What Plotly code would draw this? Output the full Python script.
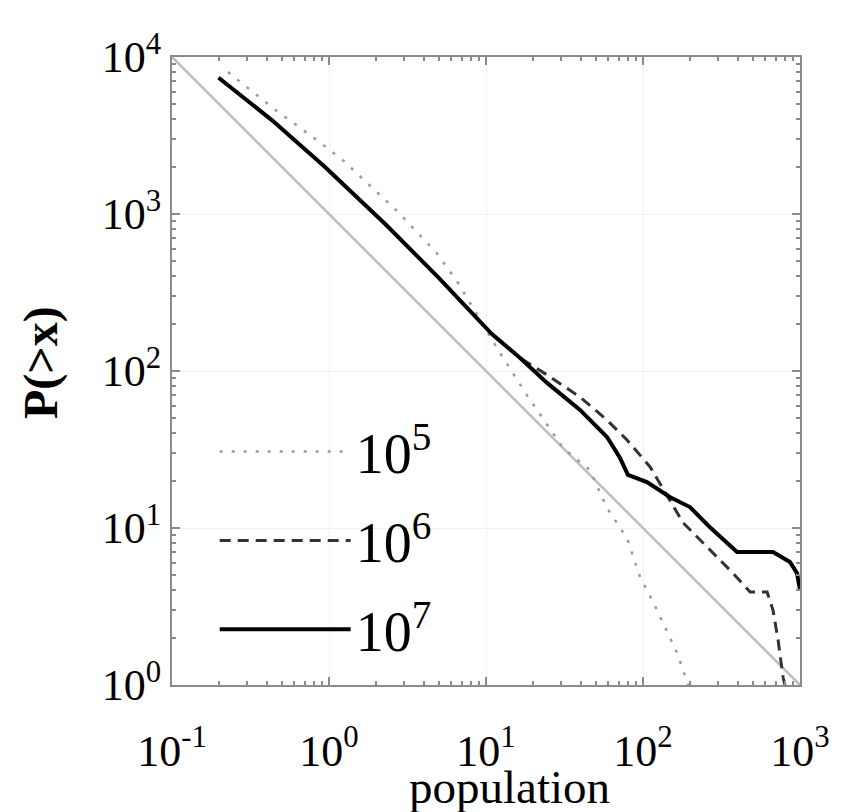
import plotly.graph_objects as go

# P(>x) versus population
pop_1e5 = [0.227, 0.440, 0.836, 1.24, 2.78, 4.85, 6.64, 12.3, 18.2, 30.9, 45.9, 59.0,
           79.1, 95.7, 116, 138, 165, 194]
cdf_1e5 = [8020, 4730, 2960, 2180, 1020, 565, 364, 130, 70.3, 32.4, 23.4, 13.4,
           8.63, 4.88, 3.38, 2.31, 1.60, 1.0]

pop_1e6 = [0.198, 0.434, 0.943, 2.28, 5.02, 10.9, 16.5, 24.5, 39.7, 59.0, 79.1, 111,
           180, 256, 374, 481, 617, 673, 725, 780, 802]
cdf_1e6 = [7380, 3950, 1990, 863, 391, 172, 121, 94.4, 68.3, 48.7, 36.4, 24.5,
           10.8, 7.57, 5.16, 3.91, 3.91, 3.0, 1.94, 1.12, 1.0]

pop_1e7 = [0.198, 0.434, 0.943, 2.28, 5.02, 10.9, 16.5, 24.5, 39.7, 59.0, 71.4, 80.2,
           106, 149, 199, 267, 397, 673, 863, 957, 1000]
cdf_1e7 = [7380, 3950, 1990, 863, 391, 172, 121, 84, 56.5, 38.0, 27.9, 21.8,
           19.6, 15.7, 13.6, 10.1, 7.03, 7.03, 6.07, 5.16, 4.03]

# reference power law x^-1
ref_x = [0.1, 1000]
ref_y = [10000, 1]

series_names = ['10<sup>5</sup>', '10<sup>6</sup>', '10<sup>7</sup>']

x_tickvals = [0.1, 1, 10, 100, 1000]
x_ticktext = ['10<sup>-1</sup>', '10<sup>0</sup>', '10<sup>1</sup>', '10<sup>2</sup>', '10<sup>3</sup>']
y_tickvals = [1, 10, 100, 1000, 10000]
y_ticktext = ['10<sup>0</sup>', '10<sup>1</sup>', '10<sup>2</sup>', '10<sup>3</sup>', '10<sup>4</sup>']

x_minor = [m * 10 ** e for e in range(-1, 3) for m in range(2, 10)]
y_minor = [m * 10 ** e for e in range(0, 4) for m in range(2, 10)]

FONT = 'Liberation Serif'

ref = go.Scatter(x=ref_x, y=ref_y, mode='lines', showlegend=False,
                 line=dict(color='#bdbdbd', width=2.5))
trace1 = go.Scatter(x=pop_1e5, y=cdf_1e5, mode='lines', name=series_names[0], legendgroup='a',
                    line=dict(color='#9a9a9a', width=2.5, dash='3px,9px'))
trace2 = go.Scatter(x=pop_1e6, y=cdf_1e6, mode='lines', name=series_names[1], legendgroup='b',
                    line=dict(color='#333333', width=3, dash='11px,7px'))
trace3 = go.Scatter(x=pop_1e7, y=cdf_1e7, mode='lines', name=series_names[2], legendgroup='c',
                    line=dict(color='black', width=4))

axis_common = dict(type='log', showline=True, linecolor='#8a8a8a', linewidth=2,
                   mirror='allticks', ticks='inside', ticklen=8, tickwidth=2, tickcolor='#8a8a8a',
                   showgrid=True, gridcolor='#f1f1f1', zeroline=False,
                   tickfont=dict(family=FONT, size=44, color='black'))

layout = go.Layout(
    width=836, height=804,
    margin=dict(l=164, r=44, t=49, b=127),
    paper_bgcolor='white', plot_bgcolor='white',
    font=dict(family=FONT, color='black'),
    xaxis=dict(axis_common, range=[-1, 3], tickmode='array', tickvals=x_tickvals, ticktext=x_ticktext,
               ticklabelstandoff=26,
               minor=dict(tickmode='array', tickvals=x_minor, ticks='inside', ticklen=4,
                          tickcolor='#8a8a8a', showgrid=False)),
    yaxis=dict(axis_common, range=[0, 4], tickmode='array', tickvals=y_tickvals, ticktext=y_ticktext,
               ticklabelstandoff=0,
               minor=dict(tickmode='array', tickvals=y_minor, ticks='inside', ticklen=4,
                          tickcolor='#8a8a8a', showgrid=False)),
    annotations=[
        dict(text='population', xref='paper', yref='paper', x=0.538, y=-0.118,
             xanchor='center', yanchor='top', showarrow=False,
             font=dict(family=FONT, size=47)),
        dict(text='<b>P(>x)</b>', xref='paper', yref='paper', x=-0.209, y=0.514,
             xanchor='center', yanchor='middle', textangle=-90, showarrow=False,
             font=dict(family=FONT, size=48)),
    ],
    showlegend=True,
    legend=dict(x=0.068, y=0.44, xanchor='left', yanchor='top', bgcolor='rgba(0,0,0,0)',
                font=dict(family=FONT, size=56), itemwidth=131, tracegroupgap=13),
)

fig = go.Figure(data=[ref, trace1, trace2, trace3], layout=layout)
fig.write_html('out.html')
